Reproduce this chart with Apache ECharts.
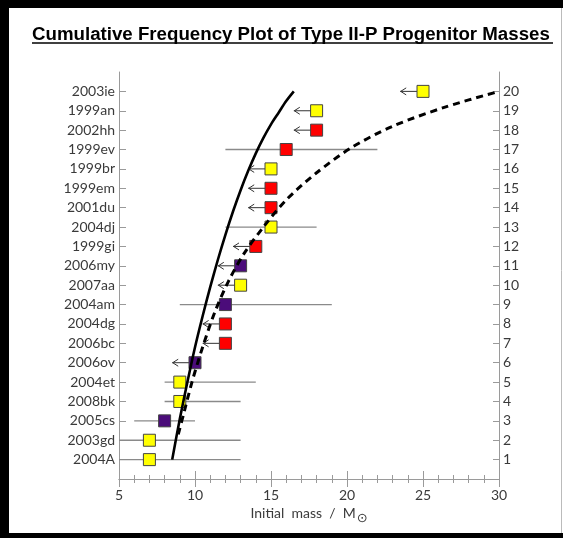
<!DOCTYPE html>
<html><head><meta charset="utf-8">
<script src="https://cdn.jsdelivr.net/npm/echarts@6/dist/echarts.min.js"></script>
<style>html,body{margin:0;padding:0;background:#fff}#c{width:563px;height:538px}</style>
</head><body><div id="c"></div>
<script>
// ---- data ----
const names = ['2004A','2003gd','2005cs','2008bk','2004et','2006ov','2006bc','2004dg','2004am','2007aa',
               '2006my','1999gi','2004dj','2001du','1999em','1999br','1999ev','2002hh','1999an','2003ie'];
const rows = [1,2,3,4,5,6,7,8,9,10,11,12,13,14,15,16,17,18,19,20];
const masses = [7,7,8,9,9,10,12,12,12,13,13,14,15,15,15,15,16,18,18,25];
const colorKeys = ['Y','Y','P','Y','Y','P','R','R','P','Y','P','R','Y','R','R','Y','R','R','Y','Y'];
const errLow  = [5,5,6,8,8,null,null,null,9,null,null,null,12,null,null,null,12,null,null,null];
const errHigh = [13,13,10,13,14,null,null,null,19,null,null,null,18,null,null,null,22,null,null,null];
const limitTip = [null,null,null,null,null,8.5,10.5,10.5,null,11.5,11.5,12.5,null,13.5,13.5,13.5,null,16.5,16.5,23.5];
const solidMass = [8.5,9.0,9.5,10.0,10.5,11.0,11.5,12.0,12.5,13.0,13.5,14.0,14.5,15.0,15.5,16.0,16.5];
const solidCum  = [1.0,3.1,5.0,6.8,8.4,9.9,11.3,12.6,13.8,14.9,15.9,16.8,17.6,18.3,18.9,19.5,20.0];
const dashMass = [8.9,9.3,9.8,10.5,11.3,12.2,13.2,14.5,16.0,18.0,20.3,23.0,26.5,30.0];
const dashCum  = [2.3,3.5,5.0,6.8,8.6,10.2,11.6,13.0,14.4,15.8,17.1,18.2,19.2,20.0];
const xTickLabels = [5,10,15,20,25,30];

const palette = {Y:'#ffff00', R:'#ff0000', P:'#4b0c7a'};
const labelColor = '#3a3a3a';
const axisColor = '#9a9a9a';

const chart = echarts.init(document.getElementById('c'), null, {renderer:'canvas'});

const errData = [], limData = [], ptData = [];
for (let i = 0; i < names.length; i++) {
  if (errLow[i] != null) errData.push([errLow[i], errHigh[i], rows[i]]);
  if (limitTip[i] != null) limData.push([limitTip[i], masses[i], rows[i]]);
  ptData.push({value:[masses[i], rows[i]], itemStyle:{color: palette[colorKeys[i]]}});
}

const option = {
  animation: false,
  backgroundColor: '#ffffff',
  title: {
    text: 'Cumulative Frequency Plot of Type II-P Progenitor Masses',
    left: 27, top: 20,
    textStyle: {fontFamily:'Liberation Sans', fontWeight:'bold', fontSize:18.7, color:'#000'}
  },
  graphic: [
    {type:'rect', shape:{x:0,y:0,width:563,height:8}, style:{fill:'#000'}, silent:true},
    {type:'rect', shape:{x:0,y:0,width:9,height:538}, style:{fill:'#000'}, silent:true},
    {type:'rect', shape:{x:0,y:533,width:563,height:5}, style:{fill:'#000'}, silent:true},
    {type:'line', shape:{x1:561.5,y1:8,x2:561.5,y2:533}, style:{stroke:'#bbb', lineWidth:1}, silent:true},
    {type:'line', shape:{x1:32,y1:43,x2:553,y2:43}, style:{stroke:'#000', lineWidth:1.6}, silent:true}
  ],
  grid: {left:119, right:64, top:72, bottom:59, containLabel:false},
  xAxis: [
    {type:'value', position:'bottom', min:5, max:30, interval:5,
     axisLine:{lineStyle:{color:axisColor}},
     axisTick:{inside:true, length:8, lineStyle:{color:axisColor}},
     minorTick:{show:true, splitNumber:5, length:4, lineStyle:{color:axisColor}},
     splitLine:{show:false}, minorSplitLine:{show:false},
     axisLabel:{margin:9, fontFamily:'Lato', fontSize:14, color:labelColor,
       formatter: v => xTickLabels.indexOf(v) >= 0 ? String(v) : ''},
     name:'{a|Initial  mass  /  M}{b|⊙}', nameLocation:'middle', nameGap:22,
     nameTextStyle:{rich:{
       a:{fontFamily:'Lato', fontSize:14, color:labelColor},
       b:{fontFamily:'DejaVu Sans', fontSize:13, color:labelColor, padding:[9,0,0,1]}
     }}},
    {type:'value', position:'top', min:5, max:30, interval:5,
     axisLine:{lineStyle:{color:axisColor}},
     axisTick:{inside:true, length:8, lineStyle:{color:axisColor}},
     minorTick:{show:true, splitNumber:5, length:4, lineStyle:{color:axisColor}},
     splitLine:{show:false}, axisLabel:{show:false}}
  ],
  yAxis: [
    {type:'value', position:'left', min:0, max:21,
     axisLine:{show:true, lineStyle:{color:axisColor}},
     axisTick:{show:true, inside:true, length:7, customValues: rows, lineStyle:{color:axisColor}},
     splitLine:{show:false},
     axisLabel:{margin:4, fontFamily:'Lato', fontSize:14, color:labelColor, customValues: rows,
       formatter: v => names[rows.indexOf(v)] || ''}},
    {type:'value', position:'right', min:0, max:21,
     axisLine:{show:true, lineStyle:{color:axisColor}},
     axisTick:{show:true, inside:true, length:6, customValues: rows, lineStyle:{color:axisColor}},
     splitLine:{show:false},
     axisLabel:{margin:4, fontFamily:'Lato', fontSize:14, color:labelColor, customValues: rows,
       formatter: v => String(v)}}
  ],
  series: [
    {type:'custom', name:'err', xAxisIndex:0, yAxisIndex:0, z:2, clip:true, data: errData,
     renderItem: (params, api) => {
       const a = api.coord([api.value(0), api.value(2)]);
       const b = api.coord([api.value(1), api.value(2)]);
       return {type:'line', shape:{x1:a[0], y1:a[1], x2:b[0], y2:b[1]},
               style:{stroke:'#8a8a8a', lineWidth:1.3}};
     }},
    {type:'custom', name:'limits', xAxisIndex:0, yAxisIndex:0, z:2, data: limData,
     renderItem: (params, api) => {
       const t = api.coord([api.value(0), api.value(2)]);
       const m = api.coord([api.value(1), api.value(2)]);
       return {type:'group', children:[
         {type:'line', shape:{x1:t[0], y1:t[1], x2:m[0], y2:m[1]}, style:{stroke:'#333', lineWidth:1}},
         {type:'polyline', shape:{points:[[t[0]+6, t[1]-3.5],[t[0]+0.5, t[1]],[t[0]+6, t[1]+3.5]]},
          style:{stroke:'#333', lineWidth:1, fill:null}}
       ]};
     }},
    {type:'scatter', name:'SNe', xAxisIndex:0, yAxisIndex:0, z:3, symbol:'rect', symbolSize:12,
     itemStyle:{borderColor:'#444', borderWidth:1, opacity:1}, data: ptData},
    {type:'line', name:'solid', xAxisIndex:0, yAxisIndex:0, z:4, showSymbol:false, smooth:0.3,
     lineStyle:{color:'#000', width:2.6}, data: solidMass.map((m,i)=>[m, solidCum[i]])},
    {type:'line', name:'dashed', xAxisIndex:0, yAxisIndex:0, z:4, showSymbol:false, smooth:0.3,
     lineStyle:{color:'#000', width:3, type:[7,5]}, data: dashMass.map((m,i)=>[m, dashCum[i]])}
  ]
};
chart.setOption(option);
</script></body></html>
